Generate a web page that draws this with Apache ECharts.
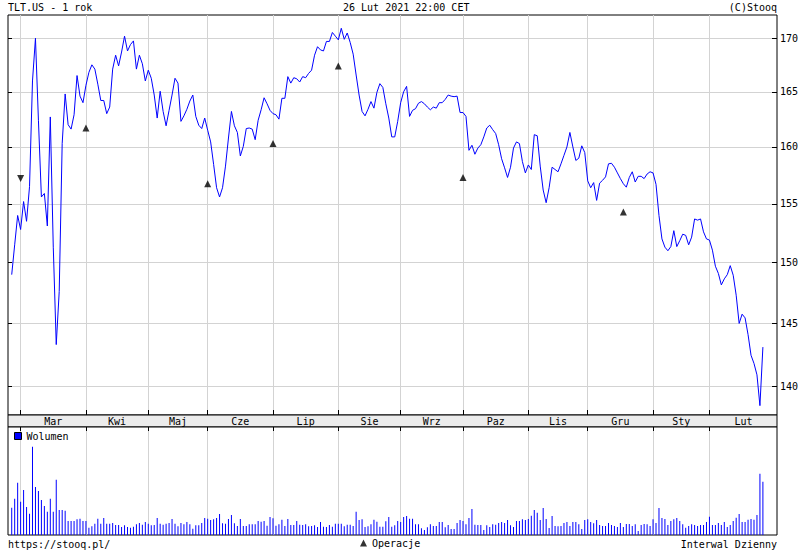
<!DOCTYPE html>
<html><head><meta charset="utf-8">
<script src="https://cdn.jsdelivr.net/npm/echarts@6/dist/echarts.min.js"></script>
<style>html,body{margin:0;padding:0;background:#fff}#c{width:800px;height:550px}</style>
</head><body><div id="c"></div>
<script>
// ---- data (x = trading-day index from 26 Feb 2020) ----
const monthLabels = ['Mar','Kwi','Maj','Cze','Lip','Sie','Wrz','Paz','Lis','Gru','Sty','Lut'];
const monthStartIdx = [3,25,46,66,88,110,131,152,174,194,216,235];
const priceTicks = [140,145,150,155,160,165,170];
const price = [149.0,151.5,154.0,152.8,155.2,153.5,156.5,166.0,170.0,162.4,
155.6,155.9,153.1,162.7,151.3,143.3,147.6,160.3,164.8,162.0,
161.6,162.9,166.5,164.6,164.0,165.6,166.8,167.5,167.1,165.7,
164.2,164.2,163.0,163.6,167.1,168.4,167.4,168.7,170.2,168.8,
169.4,169.75,167.1,168.4,167.6,166.0,167.0,166.25,164.7,162.6,
165.05,163.2,161.9,163.3,164.7,166.25,165.8,162.3,162.8,163.4,
164.15,164.7,162.75,161.95,161.65,162.6,161.5,160.45,158.45,156.4,
155.6,156.4,158.3,160.8,163.2,161.9,161.3,159.2,160.05,161.65,
161.7,161.6,160.65,162.4,163.35,164.45,163.9,163.3,163.0,162.9,
162.5,164.4,164.4,166.4,165.8,166.3,166.2,165.9,166.4,166.3,
166.7,167.0,168.4,169.2,168.9,168.8,169.7,169.7,170.55,170.2,
169.85,170.95,169.9,170.5,169.6,168.5,166.55,164.7,163.2,162.8,
163.4,164.1,163.5,164.95,165.75,165.4,163.9,162.6,160.9,160.9,
162.3,164.0,165.0,165.5,162.75,163.3,163.45,163.95,164.1,163.9,
163.6,163.35,163.6,163.5,164.0,164.0,164.3,164.7,164.6,164.55,
164.6,163.1,163.1,162.75,159.7,160.15,159.35,159.9,160.2,160.9,
161.7,161.95,161.55,161.2,160.2,158.95,158.15,157.3,158.2,159.9,
160.45,160.3,158.7,157.7,158.4,158.0,161.1,161.0,158.3,156.2,
155.1,156.4,158.2,158.0,157.8,158.5,159.25,160.0,161.3,160.0,
158.8,159.0,160.1,159.5,157.0,156.4,156.85,155.3,156.8,157.05,
157.35,158.5,158.55,158.2,157.7,157.2,156.75,156.45,157.3,157.8,
156.9,157.4,157.4,157.2,157.6,157.8,157.7,156.7,154.0,152.0,
151.3,151.0,151.35,152.7,151.35,151.85,152.4,152.3,151.5,152.15,
153.7,153.6,153.7,152.6,152.0,151.9,151.05,149.7,149.1,148.15,
148.65,149.0,149.75,148.95,147.3,145.0,145.75,145.45,144.1,142.45,
141.8,140.9,138.5,143.1];
const volume = [27.3,36.3,52.3,33.3,45,28,21.3,88.3,48,44,
35,29,23.3,36.3,23.3,55.3,25,25,24.3,14,
14,14,15.7,16.3,14,14,7.3,8.7,11.3,16.3,
11.3,17,11.3,11.3,12,10,10,8,9.7,8,
7.3,8.3,10.7,12,10.3,13,11.3,9.7,10,17,
11.3,10.3,11.3,12,16,11.3,8.7,12,10.7,13,
10.7,6.3,9.7,9.7,12,17,16.3,15,15.7,17,
21,11.7,11.3,16,20,11.7,9,16,9,9,
10.7,10.7,10.7,14,13.3,14,9.3,18,16.7,9.3,
10.7,15.3,9,16,10,10,14,10.3,10,10.7,
8.7,9,9.7,8,13,8.3,8,10,8.3,11.3,
11.3,11.3,8.7,10.3,10.3,9,23.3,15,15.7,8,
8.7,10.7,15.3,13.3,8.3,8.3,13.7,18,8.3,9.7,
14,13,18,19,16.3,16.3,10.7,10.7,6.7,5,
7.7,10.7,9,9,13,13,7.7,10,6,6,
12,15,14,10.7,17,26,10.3,10,10,5,
9.7,8,10.7,10.3,12,13,12,15,9.7,8,
14,14,15.7,15,16,19.3,25,22.3,15,27,
16,7,19,9,8.7,9,12,13,9,13,
13,10.7,6,15,15.7,13,11.7,15,10,9,
9,12,10,9,8,12,8,11,11,9,
10.7,4,10,11,10.7,9,15.7,12,27,17,
16,10,14,15.7,17,14,10.7,7.3,9,10.7,
10,9,10,10,13,18.3,10,10,12,10,
13,8,10,14,17.3,21,13,13,15.3,16,
15.3,20,61.3,53.3];
const opIdx = [3,25,66,88,110,152,206];
const opVal = [157.2,161.7,156.75,160.3,167.4,157.3,154.3];
const opDir = [-1,1,1,1,1,1,1];

// ---- layout / style ----
const FONT = '"DejaVu Sans Mono", monospace';
const X_MIN = -1.25, X_MAX = 257.75;
const P_MIN = 137.78, P_MAX = 172.22;
const V_MAX = 108;
const GRID_PX_W = 769, PRICE_PX_H = 400;
const idxPerPx = (X_MAX - X_MIN) / GRID_PX_W;
const lnPerPx = Math.log(P_MAX / P_MIN) / PRICE_PX_H;
const greyLine = {color:'#d3d3d3', width:1, type:'solid'};
const blackLine = {color:'#000', width:1, type:'solid'};
const txt = {fontFamily:FONT, fontSize:10, fontWeight:'normal', color:'#000'};

const monthEnds = monthStartIdx.slice(1).concat([X_MAX]);
const labelAt = {};
monthStartIdx.forEach((s,k)=>{ labelAt[Math.round((s + monthEnds[k]) / 2 * 4)] = monthLabels[k]; });

const priceGrid = priceTicks.map(v=>({yAxis:v, label:{show:true, formatter:String(v)}}))
  .concat(monthStartIdx.map(i=>({xAxis:i, label:{show:false}})));
const priceTickSeg = [];
priceTicks.forEach(v=>{
  priceTickSeg.push([{coord:[X_MIN, v]}, {coord:[X_MIN + 4*idxPerPx, v]}]);
  priceTickSeg.push([{coord:[X_MAX - 5*idxPerPx, v]}, {coord:[X_MAX, v]}]);
});
monthStartIdx.forEach(i=>{
  priceTickSeg.push([{coord:[i, P_MIN]}, {coord:[i, P_MIN*Math.exp(5*lnPerPx)]}]);
});
const volLines = monthStartIdx.map(i=>({xAxis:i, lineStyle:greyLine}))
  .concat(monthStartIdx.map(i=>[{coord:[i, V_MAX], lineStyle:blackLine}, {coord:[i, V_MAX-4]}]));

const chart = echarts.init(document.getElementById('c'), null, {renderer:'svg'});
chart.setOption({
  animation:false,
  backgroundColor:'#fff',
  title:[
    {text:'TLT.US - 1 rok', left:8, top:2, padding:0, textStyle:txt},
    {text:'26 Lut 2021 22:00 CET', left:343, top:2, padding:0, textStyle:txt},
    {text:'(C)Stooq', right:23, top:2, padding:0, textStyle:txt},
    {text:'https://stooq.pl/', left:8, top:539, padding:0, textStyle:txt},
    {text:'Interwal Dzienny', right:23, top:539, padding:0, textStyle:txt}
  ],
  legend:[
    {data:['Wolumen'], left:14, top:431, padding:0, itemWidth:7, itemHeight:7, icon:'rect',
     textStyle:txt, itemStyle:{borderColor:'#000', borderWidth:1}},
    {data:['Operacje'], left:360, top:538, padding:0, itemWidth:7, itemHeight:7, icon:'triangle',
     textStyle:txt}
  ],
  grid:[
    {left:8, right:23, top:15, bottom:135, show:true, borderColor:'#000', borderWidth:1, backgroundColor:'#fff'},
    {left:8, right:23, top:415, height:12, show:true, borderColor:'#000', borderWidth:1, backgroundColor:'#ececec'},
    {left:8, right:23, top:427, bottom:15, show:true, borderColor:'#000', borderWidth:1, backgroundColor:'#fff'}
  ],
  xAxis:[
    {gridIndex:0, type:'value', min:X_MIN, max:X_MAX, show:false},
    {gridIndex:1, type:'value', min:X_MIN, max:X_MAX, interval:0.25, position:'bottom',
     axisLine:{show:false}, axisTick:{show:false}, splitLine:{show:false},
     axisLabel:{inside:true, margin:6, verticalAlign:'middle', fontFamily:FONT, fontSize:10, color:'#000',
       formatter:v=>labelAt[Math.round(v*4)] || ''}},
    {gridIndex:2, type:'value', min:X_MIN, max:X_MAX, show:false}
  ],
  yAxis:[
    {gridIndex:0, type:'log', min:P_MIN, max:P_MAX, show:false},
    {gridIndex:1, type:'value', min:0, max:1, show:false},
    {gridIndex:2, type:'value', min:0, max:V_MAX, show:false}
  ],
  series:[
    {name:'TLT.US', type:'line', xAxisIndex:0, yAxisIndex:0, symbol:'none', showSymbol:false,
     lineStyle:{color:'#0000ff', width:1}, itemStyle:{color:'#0000ff'},
     data:price.map((v,i)=>[i,v]),
     markLine:{silent:true, symbol:'none', z:1, lineStyle:greyLine,
       label:{position:'end', distance:3, fontFamily:FONT, fontSize:10, color:'#000'},
       data:priceGrid}},
    {name:'Operacje', type:'scatter', xAxisIndex:0, yAxisIndex:0, symbol:'triangle', symbolSize:[7,7],
     itemStyle:{color:'#000'},
     data:opIdx.map((x,k)=>({value:[x, opVal[k]], symbolRotate: opDir[k] < 0 ? 180 : 0})),
     markLine:{silent:true, symbol:'none', lineStyle:blackLine, label:{show:false}, data:priceTickSeg}},
    {name:'Wolumen', type:'bar', xAxisIndex:2, yAxisIndex:2, barWidth:1,
     itemStyle:{color:'#0000ff'},
     data:volume.map((v,i)=>[i,v]),
     markLine:{silent:true, symbol:'none', z:1, label:{show:false}, data:volLines}}
  ]
});
</script></body></html>
